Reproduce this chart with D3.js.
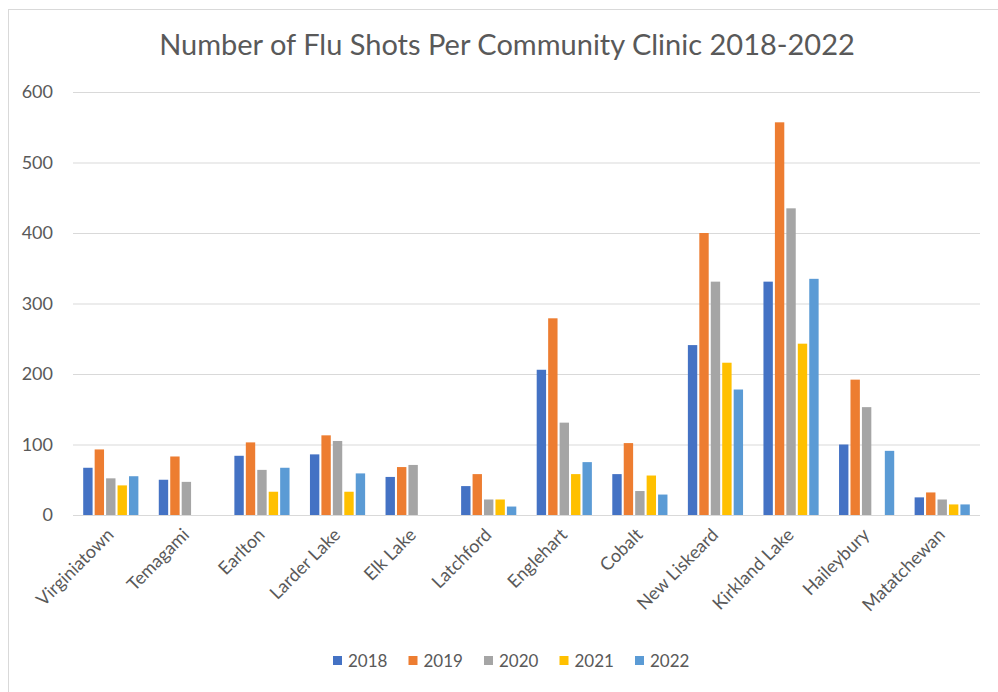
<!DOCTYPE html>
<html lang="en">
<head>
    <script src='https://d3js.org/d3.v7.min.js'></script>
</head>
<body style="margin:0;background:#fff">
<style>
svg text {
font-family: Lato, "Open Sans", sans-serif;
fill: #595959;
}
</style>
<script>
// Data
var clinics = ["Virginiatown", "Temagami", "Earlton", "Larder Lake", "Elk Lake", "Latchford",
  "Englehart", "Cobalt", "New Liskeard", "Kirkland Lake", "Haileybury", "Matatchewan"];
var years = ["2018", "2019", "2020", "2021", "2022"];
var shots2018 = [67, 50, 84, 86, 54, 41, 206, 58, 241, 331, 100, 25];
var shots2019 = [93, 83, 103, 113, 68, 58, 279, 102, 400, 557, 192, 32];
var shots2020 = [52, 47, 64, 105, 71, 22, 131, 34, 331, 435, 153, 22];
var shots2021 = [42, null, 33, 33, null, 22, 58, 56, 216, 243, null, 15];
var shots2022 = [55, null, 67, 59, null, 12, 75, 29, 178, 335, 91, 15];
var yTicks = [0, 100, 200, 300, 400, 500, 600];
var colors = ["#4472C4", "#ED7D31", "#A5A5A5", "#FFC000", "#5B9BD5"];

var series = [shots2018, shots2019, shots2020, shots2021, shots2022];
var width = 998;
var height = 692;
var plotLeft = 73, plotRight = 980, plotTop = 92, plotBottom = 515;

var svg = d3.select("body")
.append("svg")
.attr("width", width)
.attr("height", height);

// chart border (only top/left visible in the crop)
svg.append("rect")
.attr("x", 8.5).attr("y", 9.5)
.attr("width", 1000).attr("height", 700)
.attr("fill", "none")
.attr("stroke", "#d9d9d9");

// title
svg.append("text")
.attr("x", 507)
.attr("y", 55)
.attr("text-anchor", "middle")
.style("font-size", "29px")
.text("Number of Flu Shots Per Community Clinic 2018-2022");

// scales
var x0 = d3.scaleBand()
.domain(clinics)
.range([plotLeft, plotRight])
.paddingInner(0.27)
.paddingOuter(0.135);

var x1 = d3.scaleBand()
.domain(years)
.range([0, x0.bandwidth()])
.paddingInner(0.18)
.paddingOuter(0);

var y = d3.scaleLinear()
.domain([0, 600])
.range([plotBottom, plotTop]);

// y axis with gridlines
var yAxis = d3.axisLeft(y)
.tickValues(yTicks)
.tickSize(-(plotRight - plotLeft))
.tickPadding(20);

var yg = svg.append("g")
.attr("transform", "translate(" + plotLeft + ",0)")
.call(yAxis);
yg.select(".domain").remove();
yg.selectAll("line").attr("stroke", "#d9d9d9");
yg.selectAll("text").style("font-size", "18px").attr("fill", "#595959");

// bars
var group = svg.selectAll("g.clinic")
.data(clinics)
.enter()
.append("g")
.attr("class", "clinic")
.attr("transform", function(d) { return "translate(" + x0(d) + ",0)"; });

group.selectAll("rect")
.data(function(d, i) {
  return years.map(function(yr, j) { return {year: yr, value: series[j][i], k: j}; })
    .filter(function(e) { return e.value != null; });
})
.enter()
.append("rect")
.attr("x", function(d) { return x1(d.year); })
.attr("y", function(d) { return y(d.value); })
.attr("width", x1.bandwidth())
.attr("height", function(d) { return plotBottom - y(d.value); })
.attr("fill", function(d) { return colors[d.k]; });

// x axis labels
var xAxis = d3.axisBottom(x0).tickSize(0).tickPadding(0);
var xg = svg.append("g")
.attr("transform", "translate(0," + plotBottom + ")")
.call(xAxis);
xg.select(".domain").remove();
xg.selectAll("text")
.style("font-size", "18px")
.attr("fill", "#595959")
.attr("text-anchor", "end")
.attr("y", 0)
.attr("dy", 0)
.attr("transform", "translate(4,21) rotate(-45)");

// legend
var lx = d3.scaleBand()
.domain(years)
.range([333, 333 + 5 * 75.5]);

var leg = svg.selectAll("g.legend")
.data(years)
.enter()
.append("g")
.attr("class", "legend")
.attr("transform", function(d) { return "translate(" + lx(d) + ",660)"; });

leg.append("rect")
.attr("x", 0).attr("y", -4)
.attr("width", 9).attr("height", 9)
.attr("fill", function(d, i) { return colors[i]; });

leg.append("text")
.attr("x", 15)
.attr("y", 6.5)
.style("font-size", "17px")
.text(function(d) { return d; });
</script>
</body>
</html>
